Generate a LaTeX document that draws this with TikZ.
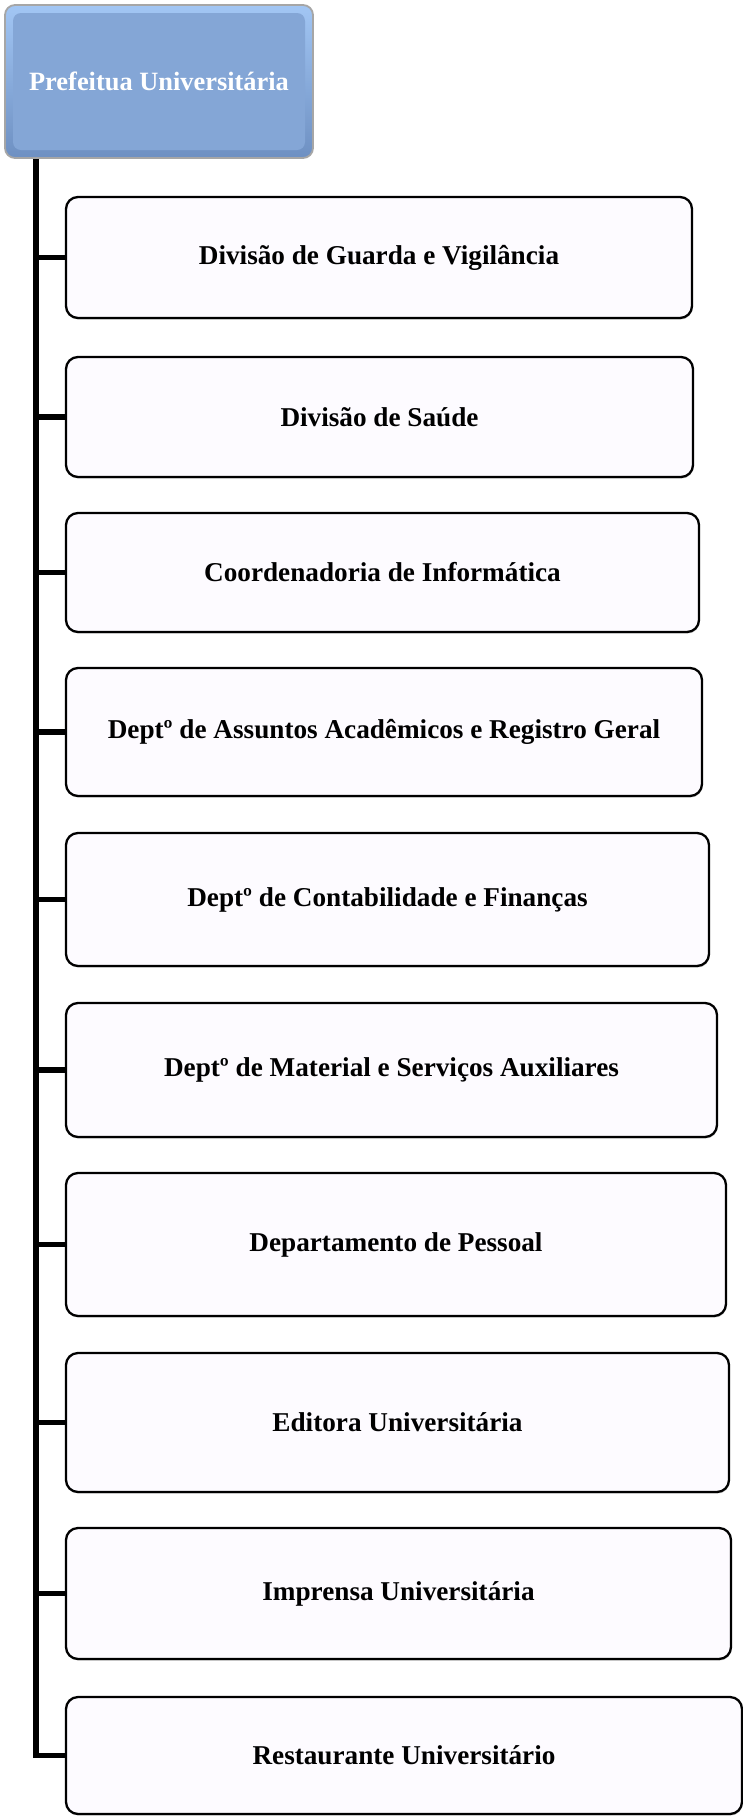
\documentclass[tikz,border=0pt]{standalone}
\usepackage{fontspec}
\setmainfont{Liberation Serif}
\usetikzlibrary{shadows}

\definecolor{puTop}{RGB}{162,198,244}
\definecolor{puMid}{RGB}{132,166,214}
\definecolor{puBot}{RGB}{110,144,194}
\definecolor{boxFill}{RGB}{253,251,255}

\begin{document}
\begin{tikzpicture}[
  x=0.5pt, y=-0.5pt,
  font=\fontsize{13.6}{16}\selectfont\bfseries,
  head/.style={rounded corners=5pt, draw=gray!70, line width=0.9pt,
               top color=puTop, bottom color=puBot, text=white,
               inner sep=0pt, font=\fontsize{13.2}{16}\selectfont\bfseries,
               path picture={\fill[puMid, rounded corners=4pt]
                 ([xshift=4pt,yshift=4pt]path picture bounding box.south west)
                 rectangle
                 ([xshift=-4pt,yshift=-4pt]path picture bounding box.north east);}},
  unit/.style={draw, rounded corners=6pt, line width=1.15pt, fill=boxFill,
               inner sep=0pt,
               drop shadow={shadow xshift=0.3pt, shadow yshift=-0.8pt,
                            fill=gray!45, opacity=0.8}},
  trunk/.style={line width=2.8pt}
]
\useasboundingbox (0,0) rectangle (743,1816);

% ---- Head ----
\node[head, minimum width=154pt, minimum height=76.5pt] (pu) at (159,81.5)
  {Prefeitua Universitária};

% ---- Units ----
\node[unit, minimum width=313pt, minimum height=60.5pt] (dgv) at (379,257.5)
  {Divisão de Guarda e Vigilância};
\node[unit, minimum width=313.5pt, minimum height=60pt] (ds) at (379.5,417)
  {Divisão de Saúde};
\node[unit, minimum width=316.5pt, minimum height=59.5pt] (ci) at (382.5,572.5)
  {Coordenadoria de Informática};
\node[unit, minimum width=318pt, minimum height=64pt] (daa) at (384,732)
  {Deptº de Assuntos Acadêmicos e Registro Geral};
\node[unit, minimum width=321.5pt, minimum height=66.5pt] (dcf) at (387.5,899.5)
  {Deptº de Contabilidade e Finanças};
\node[unit, minimum width=325.5pt, minimum height=67pt] (dms) at (391.5,1070)
  {Deptº de Material e Serviços Auxiliares};
\node[unit, minimum width=330pt, minimum height=71.5pt] (dp) at (396,1244.5)
  {Departamento de Pessoal};
\node[unit, minimum width=331.5pt, minimum height=69.5pt] (eu) at (397.5,1422.5)
  {Editora Universitária};
\node[unit, minimum width=332.5pt, minimum height=65.5pt] (iu) at (398.5,1593.5)
  {Imprensa Universitária};
\node[unit, minimum width=338pt, minimum height=58.5pt] (ru) at (404,1755.5)
  {Restaurante Universitário};

% ---- Wiring ----
\coordinate (spine) at (36,0);
\draw[trunk] (pu.south -| spine) |- (ru.west);
\foreach \u in {dgv,ds,ci,daa,dcf,dms,dp,eu,iu}
  \draw[trunk] (spine |- \u.west) -- (\u.west);
\end{tikzpicture}
\end{document}
